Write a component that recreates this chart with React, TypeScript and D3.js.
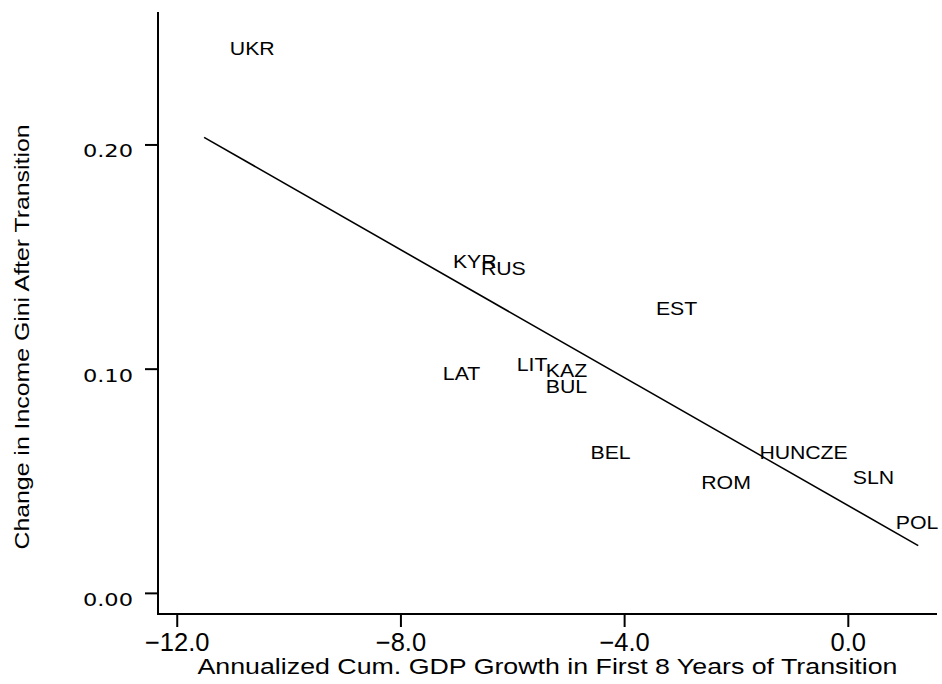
import React, { useEffect, useRef } from 'react';
import * as d3 from 'd3';

// country codes, placed where their labels sit
const countries = ['UKR', 'KYR', 'RUS', 'EST', 'LAT', 'LIT', 'KAZ', 'BUL', 'BEL', 'ROM', 'HUN', 'CZE', 'SLN', 'POL'];
const gdpGrowth = [-11.06, -7.07, -6.57, -3.44, -7.25, -5.93, -5.41, -5.41, -4.61, -2.63, -1.59, -0.77, 0.08, 0.85];
const giniChange = [0.243, 0.148, 0.145, 0.127, 0.098, 0.102, 0.0996, 0.0926, 0.0628, 0.0496, 0.0628, 0.0628, 0.0517, 0.0318];

const xTicks = [-12, -8, -4, 0];
const yTicks = [0, 0.1, 0.2];

// fitted line end points
const fitX = [-11.52, 1.25];
const fitY = [0.2034, 0.0213];

const App: React.FC = () => {
  const svgRef = useRef<SVGSVGElement>(null);

  useEffect(() => {
    if (!svgRef.current) return;
    const svg = d3.select(svgRef.current);
    svg.selectAll('*').remove();

    const left = 158, right = 937, top = 12, bottom = 614;

    const x = d3.scaleLinear().domain([-12.344, 1.586]).range([left, right]);
    const y = d3.scaleLinear().domain([-0.0092, 0.2593]).range([bottom, top]);

    const g = svg.append('g');

    // axes
    g.append('path')
      .attr('d', `M${left},${top}V${bottom}H${right}`)
      .attr('fill', 'none')
      .attr('stroke', '#000')
      .attr('stroke-width', 2);

    xTicks.forEach(t => {
      g.append('line')
        .attr('x1', x(t)).attr('x2', x(t))
        .attr('y1', bottom).attr('y2', bottom + 13)
        .attr('stroke', '#000').attr('stroke-width', 2);
      g.append('text')
        .attr('x', x(t)).attr('y', 651)
        .attr('text-anchor', 'middle')
        .style('font-family', '"Liberation Sans", Arial, sans-serif')
        .style('font-size', '25.5px')
        .text(d3.format('.1f')(t));
    });

    yTicks.forEach(t => {
      g.append('line')
        .attr('x1', left - 13).attr('x2', left)
        .attr('y1', y(t)).attr('y2', y(t))
        .attr('stroke', '#000').attr('stroke-width', 2);
      g.append('text')
        .attr('transform', `translate(133,${y(t) + 12.5}) scale(1.23,1)`)
        .attr('text-anchor', 'end')
        .style('font-family', '"DejaVu Sans", sans-serif')
        .style('font-size', '18.3px')
        .text(d3.format('.2f')(t));
    });

    // fit line
    const line = d3.line<number>()
      .x((_, i) => x(fitX[i]))
      .y(d => y(d));
    g.append('path')
      .datum(fitY)
      .attr('d', line)
      .attr('fill', 'none')
      .attr('stroke', '#000')
      .attr('stroke-width', 1.6);

    // country labels
    countries.forEach((c, i) => {
      g.append('text')
        .attr('transform', `translate(${x(gdpGrowth[i])},${y(giniChange[i])}) scale(1.12,1)`)
        .attr('dy', 6.8)
        .style('font-family', '"Liberation Sans", Arial, sans-serif')
        .style('font-size', '19px')
        .text(c);
    });

    // axis titles
    g.append('text')
      .attr('x', (left + right) / 2)
      .attr('y', 674)
      .attr('text-anchor', 'middle')
      .attr('textLength', 700)
      .attr('lengthAdjust', 'spacingAndGlyphs')
      .style('font-family', '"Liberation Sans", Arial, sans-serif')
      .style('font-size', '22px')
      .text('Annualized Cum. GDP Growth in First 8 Years of Transition');

    g.append('text')
      .attr('transform', 'translate(29,337) rotate(-90)')
      .attr('text-anchor', 'middle')
      .attr('textLength', 425)
      .attr('lengthAdjust', 'spacingAndGlyphs')
      .style('font-family', '"Liberation Sans", Arial, sans-serif')
      .style('font-size', '21px')
      .text('Change in Income Gini After Transition');
  }, []);

  return (
    <svg
      ref={svgRef}
      width={942}
      height={684}
      viewBox="0 0 942 684"
      style={{ position: 'absolute', left: 0, top: 0, background: '#fff' }}
    />
  );
};

export default App;
